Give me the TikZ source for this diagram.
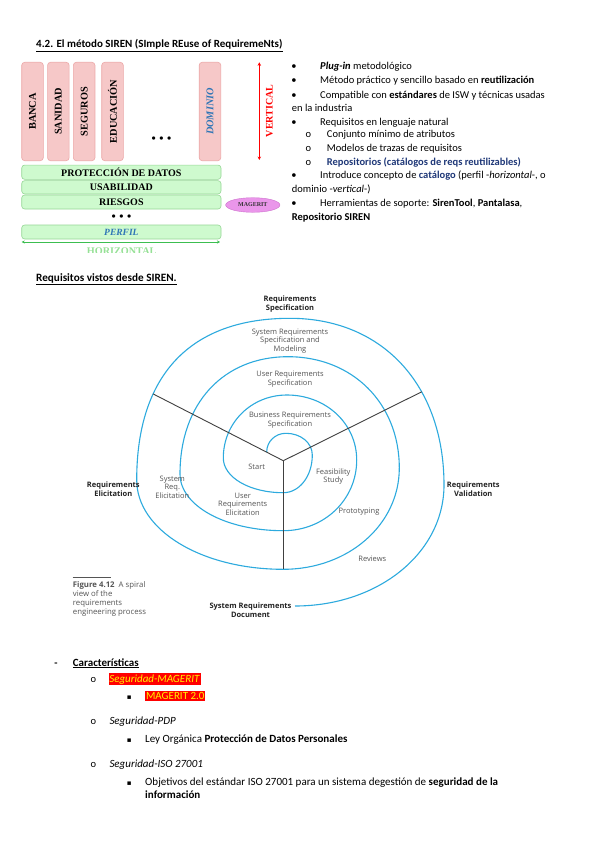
\documentclass[tikz,border=0pt]{standalone}
\usepackage{fontspec}
\setmainfont{Carlito}
\newfontfamily\timesf{Liberation Serif}
\newfontfamily\figf{Open Sans}
\newfontfamily\dejavu{DejaVu Sans}
\usetikzlibrary{arrows.meta,intersections,shapes.geometric}
\definecolor{pinkfill}{RGB}{246,200,200}
\definecolor{pinkline}{RGB}{236,168,168}
\definecolor{greenfill}{RGB}{206,250,206}
\definecolor{greenline}{RGB}{150,215,150}
\definecolor{magfill}{RGB}{234,150,234}
\definecolor{magline}{RGB}{205,110,205}
\definecolor{domblue}{RGB}{46,117,182}
\definecolor{darkblue}{RGB}{31,56,120}
\definecolor{spiralc}{RGB}{45,170,222}
\definecolor{axisc}{RGB}{64,64,64}
\definecolor{labgray}{RGB}{85,85,85}
\definecolor{labdark}{RGB}{35,35,35}
\definecolor{hzgreen}{RGB}{150,225,150}
\definecolor{arrgreen}{RGB}{60,190,80}
\begin{document}
\begin{tikzpicture}[x=1pt,y=-1pt,
  txt/.style={anchor=base west, inner sep=0pt, font=\fontsize{10.5}{12}\selectfont},
  btxt/.style={anchor=base west, inner sep=0pt, font=\fontsize{11}{13}\selectfont},
  bul/.style={anchor=base, inner sep=0pt, font=\fontsize{10.5}{12}\selectfont},
  sqb/.style={anchor=base, inner sep=0pt, font=\dejavu\fontsize{7}{8}\selectfont},
  pinkbox/.style={draw=pinkline, fill=pinkfill, rounded corners=3pt, line width=0.6pt, minimum width=21.6pt, minimum height=98.4pt, inner sep=0pt},
  vlab/.style={rotate=90, inner sep=0pt, font=\timesf\bfseries\fontsize{10.3}{12}\selectfont},
  greenbox/.style={draw=greenline, fill=greenfill, rounded corners=3pt, line width=0.6pt, minimum width=199.3pt, inner sep=0pt, font=\timesf\bfseries\fontsize{10}{12}\selectfont},
  dotsn/.style={inner sep=0pt, font=\timesf\bfseries\fontsize{12}{12}\selectfont},
  spiral/.style={draw=spiralc, line width=1.1pt},
  axisl/.style={draw=axisc, line width=0.9pt},
  flab/.style={align=center, inner sep=0pt, text=labgray, font=\figf\fontsize{7.5}{8.5}\selectfont},
  fbold/.style={align=center, inner sep=0pt, text=labdark, font=\figf\bfseries\fontsize{7.5}{8.5}\selectfont},
  hl/.style={anchor=base west, fill=red, text=yellow, inner xsep=0.8pt, inner ysep=1.5pt, font=\fontsize{11}{13}\selectfont}
]
\useasboundingbox (0,0) rectangle (599,848);
\fill[white] (0,0) rectangle (599,848);

% ---------- title ----------
\node[txt, font=\fontsize{11}{13}\selectfont] (title) at (36,48) {\textbf{\underline{4.2. El método SIREN (SImple REuse of RequiremeNts)}}};

% ---------- SIREN diagram ----------
\node[pinkbox] (banca) at (32.5,111.5) {};
\node[pinkbox] (sanidad) at (58.35,111.5) {};
\node[pinkbox] (seguros) at (84.15,111.5) {};
\node[pinkbox] (educ) at (112.5,111.5) {};
\node[pinkbox] (dominio) at (210,111.5) {};
\node[vlab] (lbanca) at (banca) {BANCA};
\node[vlab] (lsanidad) at (sanidad) {SANIDAD};
\node[vlab] (lseguros) at (seguros) {SEGUROS};
\node[vlab] (leduc) at (educ) {EDUCACIÓN};
\node[vlab, text=domblue, font=\timesf\bfseries\itshape\fontsize{10.3}{12}\selectfont] (ldominio) at (dominio) {DOMINIO};
\node[dotsn] (dots1) at (161.5,139.3) {•\hspace{3.6pt}•\hspace{3.6pt}•};

\coordinate (vtop) at (259.3,62.3);
\coordinate (vbot) at (259.3,160);
\draw[red, line width=1pt, {Stealth[length=3.5pt,width=3.5pt]}-{Stealth[length=3.5pt,width=3.5pt]}] (vtop) -- (vbot);
\node[rotate=90, inner sep=0pt, text=red, font=\timesf\bfseries\fontsize{10}{12}\selectfont] (vlabel) at (269.3,111) {VERTICAL};

\node[greenbox, minimum height=14.3pt] (prot) at (121.35,172.2) {PROTECCIÓN DE DATOS};
\node[greenbox, minimum height=13.3pt] (usab) at (121.35,187.3) {USABILIDAD};
\node[greenbox, minimum height=14pt] (ries) at (121.35,202) {RIESGOS};
\node[dotsn] (dots2) at (121.5,217.3) {•\hspace{3.6pt}•\hspace{3.6pt}•};
\node[greenbox, minimum height=14pt, text=domblue, font=\timesf\bfseries\itshape\fontsize{9.5}{12}\selectfont] (perfil) at (121.35,232) {PERFIL};
\node[ellipse, draw=magline, fill=magfill, minimum width=54.3pt, minimum height=14.6pt, inner sep=0pt, text=black!80, font=\timesf\bfseries\fontsize{6}{7}\selectfont] (mag) at (252.8,205) {MAGERIT};

\coordinate (hleft) at (21.7,242);
\coordinate (hright) at (220,242);
\draw[arrgreen, line width=0.8pt, {Stealth[length=3pt,width=3pt]}-{Stealth[length=3pt,width=3pt]}] (hleft) -- (hright);
\begin{scope}
\clip (70,244) rectangle (175,252.6);
\node[anchor=base, inner sep=0pt, text=hzgreen, font=\timesf\bfseries\fontsize{10.2}{12}\selectfont] (hlabel) at (121.7,254.5) {HORIZONTAL};
\end{scope}

% ---------- right bullets ----------
\node[bul] (bu1) at (294,69.3) {•};
\node[txt] (t1) at (320,69.3) {\textbf{\textit{Plug-in}} metodológico};
\node[bul] (bu2) at (294,84) {•};
\node[txt] (t2) at (320,84) {Método práctico y sencillo basado en \textbf{reutilización}};
\node[bul] (bu3) at (294,99) {•};
\node[txt] (t3) at (320,99) {Compatible con \textbf{estándares} de ISW y técnicas usadas};
\node[txt] (t3b) at (291.7,111.2) {en la industria};
\node[bul] (bu4) at (294,125) {•};
\node[txt] (t4) at (320,125) {Requisitos en lenguaje natural};
\node[bul] (o1) at (308.3,138) {o};
\node[txt] (t5) at (326.7,138) {Conjunto mínimo de atributos};
\node[bul] (o2) at (308.3,151.2) {o};
\node[txt] (t6) at (326.7,151.2) {Modelos de trazas de requisitos};
\node[bul] (o3) at (308.3,165) {o};
\node[txt, text=darkblue] (t7) at (326.7,165) {\textbf{Repositorios (catálogos de reqs reutilizables)}};
\node[bul] (bu5) at (294,178.5) {•};
\node[txt] (t8) at (320,178.5) {Introduce concepto de \textcolor{darkblue}{\textbf{catálogo}} (perfil -\textit{horizontal}-, o};
\node[txt] (t8b) at (291.7,192.5) {dominio -\textit{vertical}-)};
\node[bul] (bu6) at (294,206.7) {•};
\node[txt] (t9) at (320,206.7) {Herramientas de soporte: \textbf{SirenTool}, \textbf{Pantalasa},};
\node[txt] (t9b) at (291.7,220.8) {\textbf{Repositorio SIREN}};

% ---------- second heading ----------
\node[txt, font=\fontsize{11.2}{13}\selectfont] (head2) at (36,281) {\textbf{\underline{Requisitos vistos desde SIREN.}}};

% ---------- spiral ----------
\coordinate (C) at (283.3,460.7);
\coordinate (B3) at (283.3,569.3);
\path[spiral, name path=spiral] (266.7,452)
  .. controls (266.7,441.5) and (275.2,433.3) .. (286,433.3)
  .. controls (300.7,433.3) and (312.3,442.8) .. (312.3,455)
  .. controls (312.3,476.1) and (299.5,492.7) .. (283.3,492.7)
  .. controls (249.7,492.7) and (223.3,477.4) .. (223.3,458)
  .. controls (223.3,422.7) and (251.3,395) .. (287,395)
  .. controls (326,395) and (356.7,423.6) .. (356.7,460)
  .. controls (356.7,499.6) and (324.4,530.7) .. (283.3,530.7)
  .. controls (225.5,530.7) and (180,505.8) .. (180,474)
  .. controls (180,403.6) and (223.2,356.7) .. (288,356.7)
  .. controls (352.6,356.7) and (399.3,403.4) .. (399.3,468)
  .. controls (399.3,524.7) and (348.3,569.3) .. (B3)
  .. controls (201.2,569.3) and (136.7,530) .. (136.7,480)
  .. controls (136.7,374.9) and (190.4,318.3) .. (290,318.3)
  .. controls (382.4,318.3) and (444,385) .. (444,485)
  .. controls (444,552.8) and (378.4,606) .. (295,606);
\path[name path=lray] (170,402.6) -- (130,382);
\path[name path=rray] (405,400.1) -- (445,380.2);
\path[name intersections={of=spiral and lray, by=Lend}];
\path[name intersections={of=spiral and rray, by=Rend}];
\draw[axisl] (C) -- (Lend);
\draw[axisl] (C) -- (Rend);
\draw[axisl] (C) -- (B3);

\node[fbold] (reqspec) at (290,304.2) {Requirements\\Specification};
\node[flab] (sysspec) at (290,340.7) {System Requirements\\Specification and\\Modeling};
\node[flab] (userspec) at (290,379.3) {User Requirements\\Specification};
\node[flab] (busspec) at (290,420.3) {Business Requirements\\Specification};
\node[flab] (start) at (256.7,467.3) {Start};
\node[flab] (feas) at (333.3,476.7) {Feasibility\\Study};
\node[flab] (userelic) at (242.7,504.3) {User\\Requirements\\Elicitation};
\node[flab] (syselic) at (172.3,487.3) {System\\Req.\\Elicitation};
\node[flab] (proto) at (359,511.7) {Prototyping};
\node[flab] (reviews) at (372.3,558.3) {Reviews};
\node[fbold] (reqelic) at (113.3,489.3) {Requirements\\Elicitation};
\node[fbold] (reqval) at (473.3,489.3) {Requirements\\Validation};
\node[fbold] (sysdoc) at (250.5,610) {System Requirements\\Document};

\coordinate (capl) at (72.7,577.3);
\coordinate (capr) at (110.7,577.3);
\draw[labgray, line width=0.5pt] (capl) -- (capr);
\node[anchor=north west, align=left, inner sep=0pt, text=labgray, font=\figf\fontsize{7.8}{9}\selectfont] (caption) at (72.7,581.3) {{\bfseries Figure 4.12}\ \ A spiral\\view of the\\requirements\\engineering process};

% ---------- bottom list ----------
\node[bul] (dash) at (56,666) {\textbf{-}};
\node[btxt] (carac) at (72.7,666) {\textbf{\underline{Características}}};
\node[bul] (o4) at (93.3,682) {o};
\node[hl] (smag) at (108.3,682) {\textit{Seguridad-MAGERIT}};
\node[sqb] (s1) at (129.3,699.5) {▪};
\node[hl] (mag2) at (145,699.5) {MAGERIT 2.0};
\node[bul] (o5) at (93.3,724) {o};
\node[btxt] (spdp) at (109.3,724) {\textit{Seguridad-PDP}};
\node[sqb] (s2) at (129.3,742.3) {▪};
\node[btxt] (ley) at (145,742.3) {Ley Orgánica \textbf{Protección de Datos Personales}};
\node[bul] (o6) at (93.3,767.3) {o};
\node[btxt] (siso) at (109.3,767.3) {\textit{Seguridad-ISO 27001}};
\node[sqb] (s3) at (129.3,785.3) {▪};
\node[btxt] (obj) at (145,785.3) {Objetivos del estándar ISO 27001 para un sistema degestión de \textbf{seguridad de la}};
\node[btxt] (info) at (145,798.7) {\textbf{información}};
\end{tikzpicture}
\end{document}
